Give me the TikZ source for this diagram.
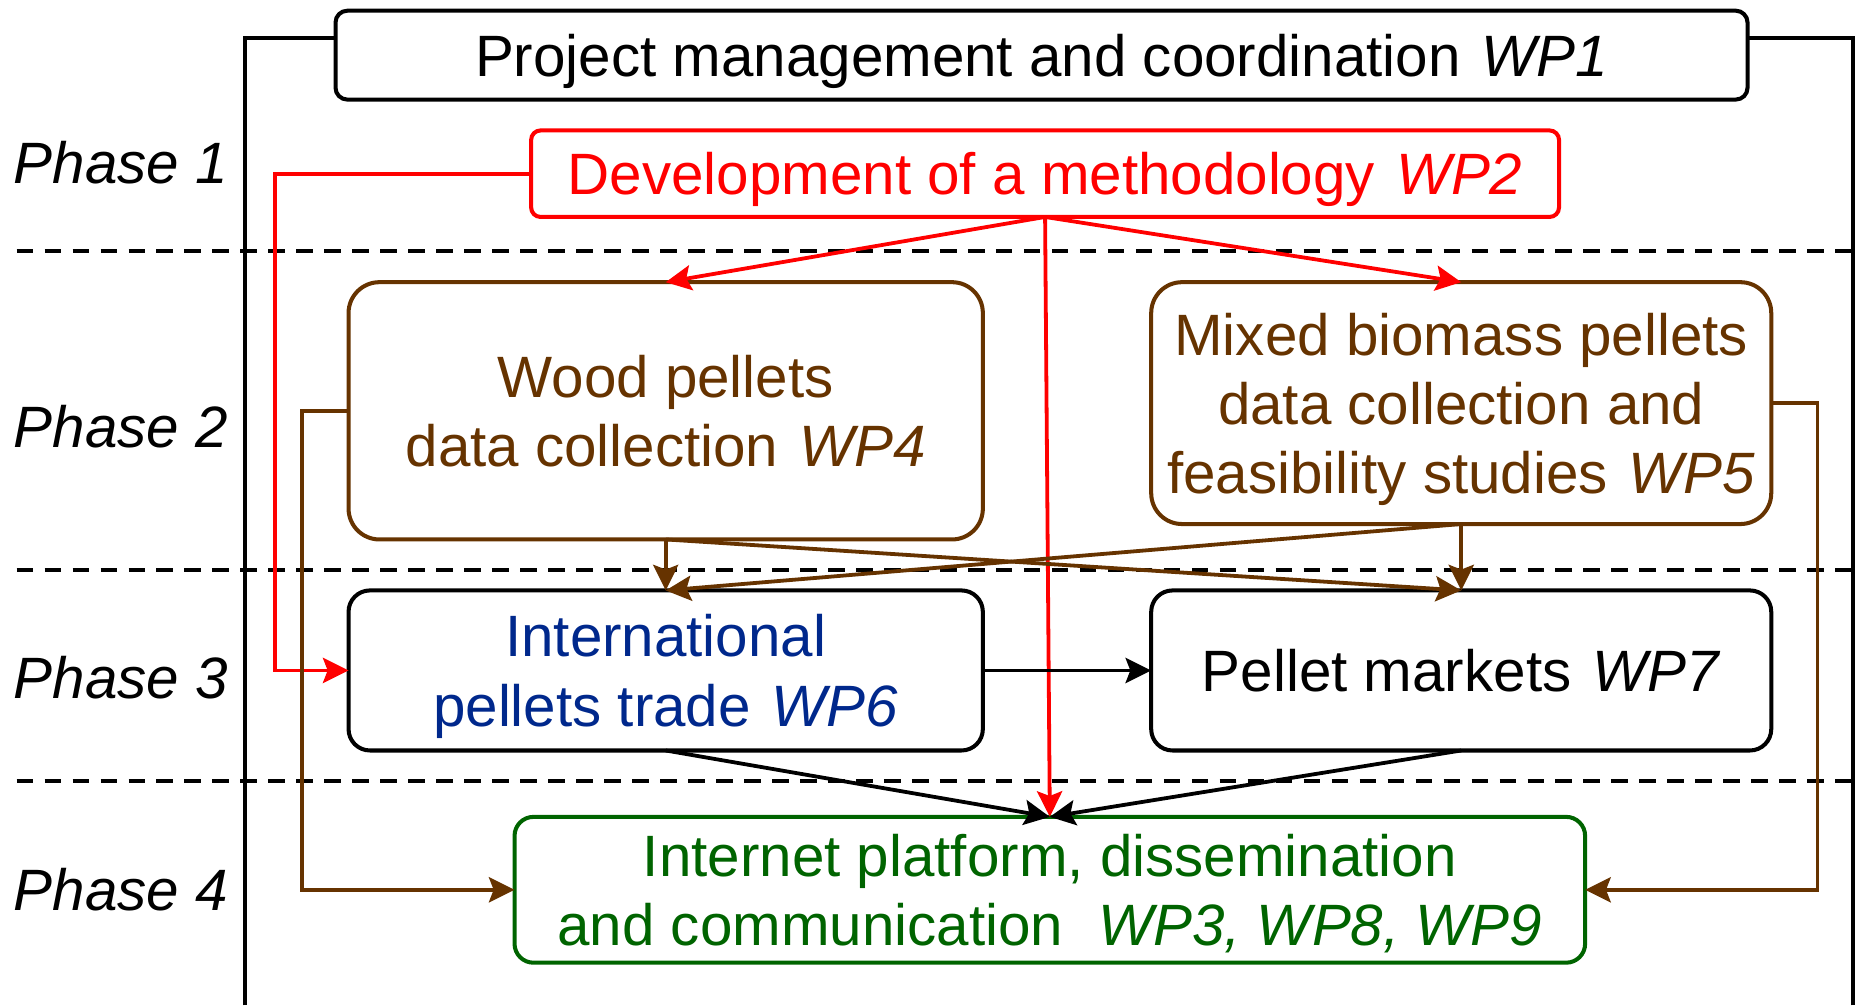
\documentclass[tikz,border=0pt]{standalone}
\usepackage{fontspec}
\setmainfont{Liberation Sans}
\usepackage{tikz}
\usetikzlibrary{positioning,arrows.meta}
\definecolor{wpred}{RGB}{255,0,0}
\definecolor{wpbrown}{RGB}{102,51,0}
\definecolor{wpblue}{RGB}{0,40,140}
\definecolor{wpgreen}{RGB}{0,100,0}
\newcommand{\WP}[1]{\hspace{0.08em}\textit{WP#1}}

\begin{document}
\begin{tikzpicture}[x=0.25pt,y=-0.25pt,>={Stealth[length=5.4pt,width=5.3pt,inset=1pt]},
    every node/.style={font=\fontsize{12.3}{14.6}\selectfont,align=center,inner sep=0pt,text depth=0pt},
    wpbox/.style={draw,line width=0.85pt,outer sep=0pt},
    frame/.style={line width=0.85pt},
    phaseline/.style={line width=0.85pt,dash pattern=on 3.5pt off 2.4pt},
    link/.style={->,line width=0.8pt}]
    \useasboundingbox (0,0) rectangle (1568,848);
    \coordinate (frameBL) at (207,848);
    \coordinate (frameBR) at (1563,848);
    % phases
    \foreach \y in {212,481,659}
      \draw[phaseline] (14,\y) -- (1563,\y);
    \foreach \i/\y in {1/137,2/360,3/571,4/750}
      \node (phase\i) at (102,\y) {\textit{Phase \i}};
    % work packages
    \node[wpbox,rounded corners=2.5pt,minimum width=297.75pt,minimum height=18.75pt] (wp1) at (878.5,46.5) {Project management and coordination \WP1};
    \node[wpbox,draw=wpred,text=wpred,rounded corners=2pt,minimum width=216.75pt,minimum height=18.25pt] (wp2) at (881.5,146.5) {Development of a methodology \WP2};
    \node[wpbox,draw=wpbrown,text=wpbrown,rounded corners=6.5pt,minimum width=133.75pt,minimum height=54.25pt] (wp4) at (561.5,346.5) {Wood pellets\\data collection \WP4};
    \node[wpbox,draw=wpbrown,text=wpbrown,rounded corners=6.5pt,minimum width=130.75pt,minimum height=51pt] (wp5) at (1232.5,340) {Mixed biomass pellets\\data collection and\\feasibility studies \WP5};
    \node[wpbox,text=wpblue,rounded corners=4.5pt,minimum width=133.75pt,minimum height=33.75pt,below=10.75pt of wp4] (wp6) {International\\pellets trade \WP6};
    \node[wpbox,rounded corners=4.5pt,minimum width=130.75pt,minimum height=33.75pt,right=35.5pt of wp6] (wp7) {Pellet markets \WP7};
    \node[wpbox,draw=wpgreen,text=wpgreen,rounded corners=4pt,minimum width=225.75pt,minimum height=30.75pt] (wpc) at (885.5,750.5) {Internet platform, dissemination\\and communication\hspace{0.6em}\textit{WP3, WP8, WP9}};
    % frame
    \draw[frame] (frameBL) |- (wp1.west |- 0,32);
    \draw[frame] (frameBR) |- (wp1.east |- 0,32);
    % links
    \draw[link,wpred] (wp2.south) -- (wp4.north);
    \draw[link,wpred] (wp2.south) -- (wp5.north);
    \draw[link,wpred] (wp2.south) -- (wpc.north);
    \draw[link,wpred] (wp2.west) -- ++(-216,0) |- (wp6.west);
    \draw[link,wpbrown] (wp4.south) -- (wp6.north);
    \draw[link,wpbrown] (wp4.south) -- (wp7.north);
    \draw[link,wpbrown] (wp5.south) -- (wp6.north);
    \draw[link,wpbrown] (wp5.south) -- (wp7.north);
    \draw[link,wpbrown] (wp4.west) -- ++(-39,0) |- (wpc.west);
    \draw[link,wpbrown] (wp5.east) -- ++(39,0) |- (wpc.east);
    \draw[link] (wp6.east) -- (wp7.west);
    \draw[link] (wp6.south) -- (wpc.north);
    \draw[link] (wp7.south) -- (wpc.north);
\end{tikzpicture}
\end{document}
